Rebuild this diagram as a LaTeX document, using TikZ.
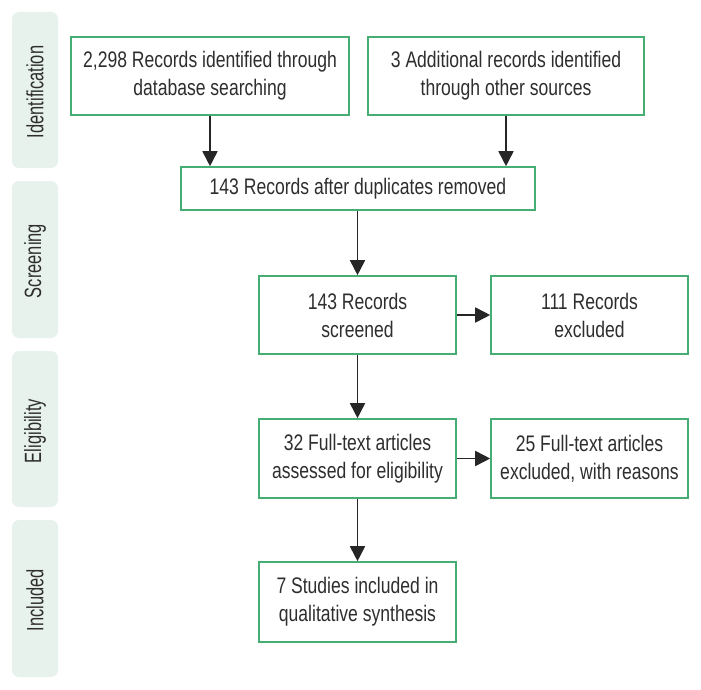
\documentclass[tikz,border=0pt]{standalone}
\usepackage{fontspec}
\setmainfont{Liberation Sans}[FakeStretch=0.78]
\newfontfamily\tabfont{Liberation Sans}[FakeStretch=0.7]
\usetikzlibrary{arrows.meta}
\definecolor{bordergreen}{HTML}{46AE74}
\definecolor{tabfill}{HTML}{E8F2EC}
\definecolor{txt}{HTML}{2E2E2E}
\begin{document}
\begin{tikzpicture}[x=1pt,y=-1pt,
  box/.style={draw=bordergreen,line width=1.6pt,fill=white,align=center,text=txt,
    font=\fontsize{22.5}{28}\selectfont,inner sep=0pt},
  tab/.style={fill=tabfill,rounded corners=7pt,draw=none},
  tablabel/.style={rotate=90,text=txt,font=\tabfont\fontsize{23.5}{26}\selectfont},
  arr/.style={draw=black!85,line width=1.7pt,-{Triangle[width=15pt,length=15pt]}}]
\useasboundingbox (0,0) rectangle (701,690);
% tabs
\fill[tab] (12,12) rectangle (58,168);
\fill[tab] (12,181) rectangle (58,338);
\fill[tab] (12,351) rectangle (58,507);
\fill[tab] (12,520) rectangle (58,677);
\node[tablabel] (tid) at (35,92) {Identification};
\node[tablabel] (tsc) at (35,261) {Screening};
\node[tablabel] (tel) at (35,431) {Eligibility};
\node[tablabel] (tin) at (35,600) {Included};
% boxes
\node[box,minimum width=278pt,minimum height=78pt] (b1) at (210,76) {2,298 Records identified through\\database searching};
\node[box,minimum width=276pt,minimum height=78pt] (b2) at (506,76) {3 Additional records identified\\through other sources};
\node[box,minimum width=354pt,minimum height=43pt] (b3) at (358,188.5) {143 Records after duplicates removed};
\node[box,minimum width=197pt,minimum height=78pt] (b4) at (357.5,315) {143 Records\\screened};
\node[box,minimum width=197pt,minimum height=78pt] (b5) at (589.5,315) {111 Records\\excluded};
\node[box,minimum width=197pt,minimum height=79pt] (b6) at (357.5,458.5) {32 Full-text articles\\assessed for eligibility};
\node[box,minimum width=197pt,minimum height=79pt] (b7) at (589.5,458.5) {25 Full-text articles\\excluded, with reasons};
\node[box,minimum width=197pt,minimum height=80pt] (b8) at (357.5,602) {7 Studies included in\\qualitative synthesis};
% arrows
\draw[arr] (b1.south) -- (b1.south |- b3.north);
\draw[arr] (b2.south) -- (b2.south |- b3.north);
\draw[arr] (b3.south -| b4.north) -- (b4.north);
\draw[arr] (b4.east) -- (b5.west);
\draw[arr] (b4.south) -- (b6.north);
\draw[arr] (b6.east) -- (b7.west);
\draw[arr] (b6.south) -- (b8.north);
\end{tikzpicture}
\end{document}
